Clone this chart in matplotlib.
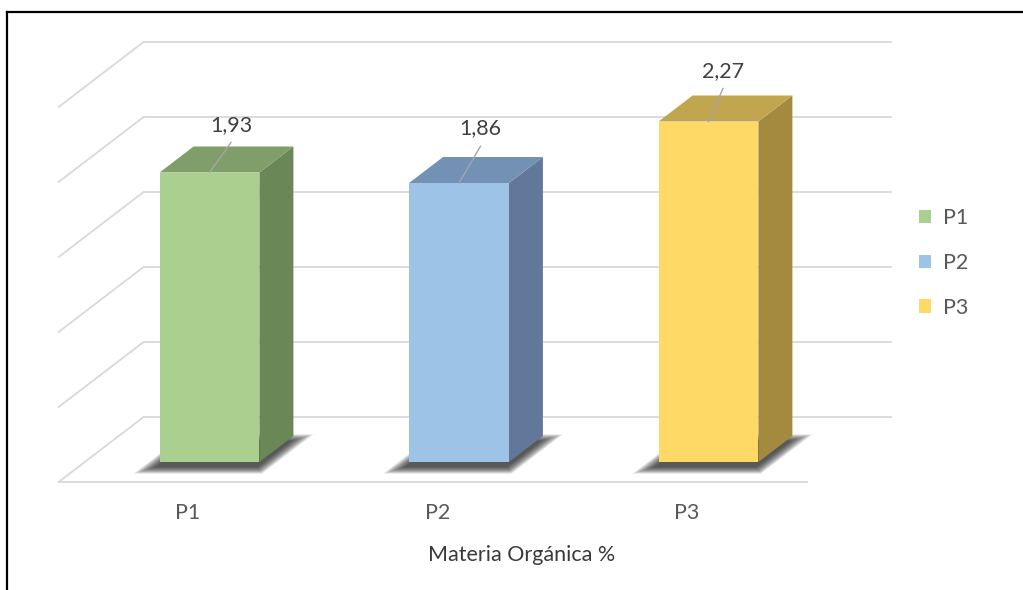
import matplotlib
matplotlib.use("Agg")
import matplotlib.pyplot as plt
from matplotlib.patches import Polygon, Patch
from matplotlib.lines import Line2D

# ---- data ----
categories = ["P1", "P2", "P3"]
values = [1.93, 1.86, 2.27]
value_labels = ["1,93", "1,86", "2,27"]
axis_title = "Materia Orgánica %"
grid_values = [0.0, 0.5, 1.0, 1.5, 2.0, 2.5]

# ---- styling ----
front_colors = ["#A9D08E", "#9DC3E6", "#FFD966"]
top_colors = ["#7F9E69", "#7391B4", "#C2A54F"]
side_colors = ["#6A8758", "#61789A", "#A48A3F"]
grid_color = "#D9D9D9"
# per-label leader geometry: (x shift of leader top, leader rise, text gap)
label_offsets = [(0.086, 0.20, 0.075), (0.086, 0.245, 0.08), (0.058, 0.22, 0.075)]

W, H, DPI = 1023, 590, 100
plt.rcParams['font.family'] = ['Lato', 'DejaVu Sans']
fig = plt.figure(figsize=(W / DPI, H / DPI), dpi=DPI)

# category/value scale of the bar front plane
x0_px, step_px = 209.5, 249.5
y0_px, unit_px = 128.0, 150.0
ax = fig.add_axes([0, 0, 1, 1])
ax.set_xlim(-x0_px / step_px, (W - x0_px) / step_px)
ax.set_ylim(-y0_px / unit_px, (H - y0_px) / unit_px)
ax.axis('off')

# oblique depth projection: z=0 front of floor, z=1 back wall
DX, DY = 85.0 / step_px, 65.0 / unit_px
z_front, z_back = 26.0 / 85.0, 60.0 / 85.0
half_w = 0.2
x_lo, x_hi = -0.5, len(categories) - 0.5


def P(c, v, z):
    return (c + (z - z_front) * DX, v + (z - z_front) * DY)


# walls and floor
for g in grid_values:
    a, b = P(x_lo, g, 1), P(x_hi, g, 1)
    ax.plot([a[0], b[0]], [a[1], b[1]], color=grid_color, lw=1.3, zorder=1,
            solid_capstyle='butt')
    d = P(x_lo, g, 0)
    ax.plot([a[0], d[0]], [a[1], d[1]], color=grid_color, lw=1.3, zorder=1)
a, b = P(x_lo, 0, 0), P(x_hi, 0, 0)
ax.plot([a[0], b[0]], [a[1], b[1]], color=grid_color, lw=1.3, zorder=1)

# bars
for i, (cat, v) in enumerate(zip(categories, values)):
    c = float(i)
    # soft shadow under the footprint, built from stacked translucent layers
    for k in range(15, -1, -1):
        ex = (1.0 + k * 0.9) / step_px
        ez = (k * 0.45) / 65.0
        sx, sy = -3.0 / step_px, -5.0 / unit_px
        pts = [P(c - half_w - ex, 0, z_front - ez), P(c + half_w + ex, 0, z_front - ez),
               P(c + half_w + ex, 0, z_back + ez), P(c - half_w - ex, 0, z_back + ez)]
        pts = [(p[0] + sx, p[1] + sy) for p in pts]
        ax.add_patch(Polygon(pts, closed=True, facecolor='#151515', edgecolor='none',
                             alpha=0.07, zorder=2))
    front = [P(c - half_w, 0, z_front), P(c + half_w, 0, z_front),
             P(c + half_w, v, z_front), P(c - half_w, v, z_front)]
    side = [P(c + half_w, 0, z_front), P(c + half_w, 0, z_back),
            P(c + half_w, v, z_back), P(c + half_w, v, z_front)]
    top = [P(c - half_w, v, z_front), P(c + half_w, v, z_front),
           P(c + half_w, v, z_back), P(c - half_w, v, z_back)]
    ax.add_patch(Polygon(side, closed=True, facecolor=side_colors[i], edgecolor='none', zorder=3))
    ax.add_patch(Polygon(top, closed=True, facecolor=top_colors[i], edgecolor='none', zorder=3))
    ax.add_patch(Polygon(front, closed=True, facecolor=front_colors[i], edgecolor='none', zorder=4))

    # leader line and value label
    dx, rise, gap = label_offsets[i]
    ax.plot([c, c + dx], [v, v + rise], color='#A6A6A6', lw=1.0, zorder=5)
    ax.text(c + dx, v + rise + gap, value_labels[i], ha='center', va='baseline',
            fontsize=15.5, color='#404040', zorder=6)

    # category label
    ax.text(c - 0.087, -0.38, cat, ha='center', va='baseline', fontsize=15.5,
            color='#595959')

# axis title
fig.text(521.5 / W, (H - 561) / H, axis_title, ha='center', va='baseline',
         fontsize=15.5, color='#3A3A3A')

# legend
handles = [Patch(facecolor=col, edgecolor='none') for col in front_colors]
fig.legend(handles, categories, loc='center left', bbox_to_anchor=(919 / W, 1 - 263 / H),
           frameon=False, fontsize=15.5, handlelength=0.58, handleheight=0.58,
           handletextpad=0.55, labelspacing=1.15, borderpad=0, borderaxespad=0,
           labelcolor='#595959')

# outer frame (top and left edges)
fig.add_artist(Line2D([6.5 / W, 1.0], [1 - 11.5 / H] * 2, transform=fig.transFigure,
                      color='black', lw=1.6))
fig.add_artist(Line2D([6.5 / W] * 2, [0.0, 1 - 11.5 / H], transform=fig.transFigure,
                      color='black', lw=1.6))

fig.savefig("out.png", dpi=DPI)
